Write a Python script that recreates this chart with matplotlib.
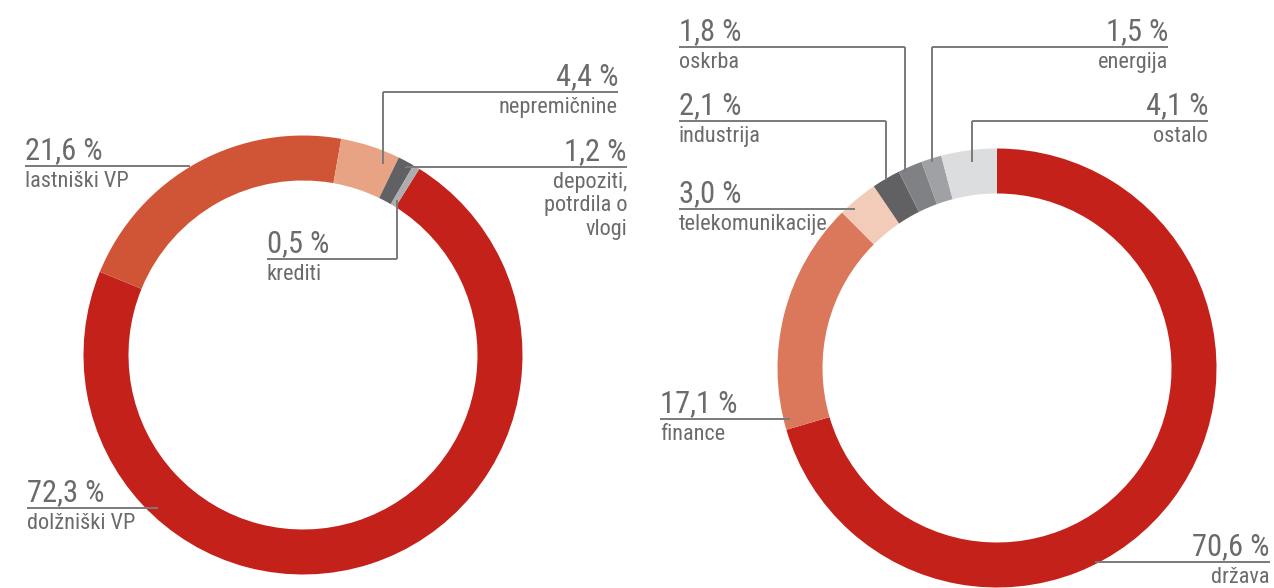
import matplotlib
matplotlib.use("Agg")
import matplotlib.pyplot as plt
from matplotlib import font_manager as fm

# ---------------- data ----------------
left_labels = ["dolžniški VP", "lastniški VP", "nepremičnine", "depoziti,\npotrdila o\nvlogi", "krediti"]
left_values = [72.3, 21.6, 4.4, 1.2, 0.5]
left_texts = ["72,3 %", "21,6 %", "4,4 %", "1,2 %", "0,5 %"]
left_colors = ["#C4211B", "#D05536", "#E8A385", "#616164", "#ADADB0"]

right_labels = ["država", "finance", "telekomunikacije", "industrija", "oskrba", "energija", "ostalo"]
right_values = [70.6, 17.1, 3.0, 2.1, 1.8, 1.5, 4.1]
right_texts = ["70,6 %", "17,1 %", "3,0 %", "2,1 %", "1,8 %", "1,5 %", "4,1 %"]
right_colors = ["#C4211B", "#DB775A", "#F2CBB9", "#616164", "#808184", "#A0A1A4", "#DCDDDF"]

# ---------------- font ----------------
family = "DejaVu Sans"
for cand in ["Liberation Sans Narrow", "Roboto Condensed", "Open Sans Condensed", "Liberation Sans"]:
    try:
        fm.findfont(cand, fallback_to_default=False)
        family = cand
        break
    except Exception:
        pass
plt.rcParams["font.family"] = [family, "DejaVu Sans"]

W, H = 1274, 588
fig = plt.figure(figsize=(W / 100, H / 100), dpi=100)
ax = fig.add_axes([0, 0, 1, 1])

TXT = "#6b6b6b"
LINE = "#7a7a7a"
PCT_FS = 22
LAB_FS = 16


def Y(y):
    return H - y


# left donut
ax.pie(left_values, colors=left_colors, startangle=58, counterclock=False,
       center=(303, Y(355)), radius=219.5,
       wedgeprops=dict(width=45, linewidth=0), normalize=True)
# right donut
ax.pie(right_values, colors=right_colors, startangle=90, counterclock=False,
       center=(997, Y(368)), radius=219.5,
       wedgeprops=dict(width=45, linewidth=0), normalize=True)

ax.set_xlim(0, W)
ax.set_ylim(0, H)
ax.set_aspect("equal")
ax.axis("off")


def label(pct, name, x, yline, ha, x2, yv=None):
    """pct text above line, name below; line from x to x2 at yline,
    optional vertical segment at x2 to yv."""
    ax.text(x, Y(yline - 7), pct, ha=ha, va="baseline", fontsize=PCT_FS, color=TXT)
    ax.text(x, Y(yline + 5), name, ha=ha, va="top", fontsize=LAB_FS, color=TXT,
            linespacing=1.15)
    ax.plot([x, x2], [Y(yline), Y(yline)], color=LINE, lw=1.4, solid_capstyle="butt")
    if yv is not None:
        ax.plot([x2, x2], [Y(yline), Y(yv)], color=LINE, lw=1.4, solid_capstyle="butt")


# left labels
label(left_texts[1], left_labels[1], 25, 166, "left", 190)
label(left_texts[2], left_labels[2], 618, 92, "right", 383, yv=164)
label(left_texts[3], left_labels[3], 627, 167, "right", 405)
label(left_texts[4], left_labels[4], 267, 259, "left", 397, yv=200)
label(left_texts[0], left_labels[0], 27, 508, "left", 158)

# right labels
label(right_texts[4], right_labels[4], 679, 47, "left", 905, yv=172)
label(right_texts[5], right_labels[5], 1168, 47, "right", 932, yv=162)
label(right_texts[3], right_labels[3], 679, 121, "left", 886, yv=180)
label(right_texts[6], right_labels[6], 1208, 121, "right", 972, yv=162)
label(right_texts[2], right_labels[2], 679, 209, "left", 855)
label(right_texts[1], right_labels[1], 660, 419, "left", 790)
label(right_texts[0], right_labels[0], 1270, 562, "right", 1095)

fig.savefig("out.png", dpi=100, facecolor="white")
